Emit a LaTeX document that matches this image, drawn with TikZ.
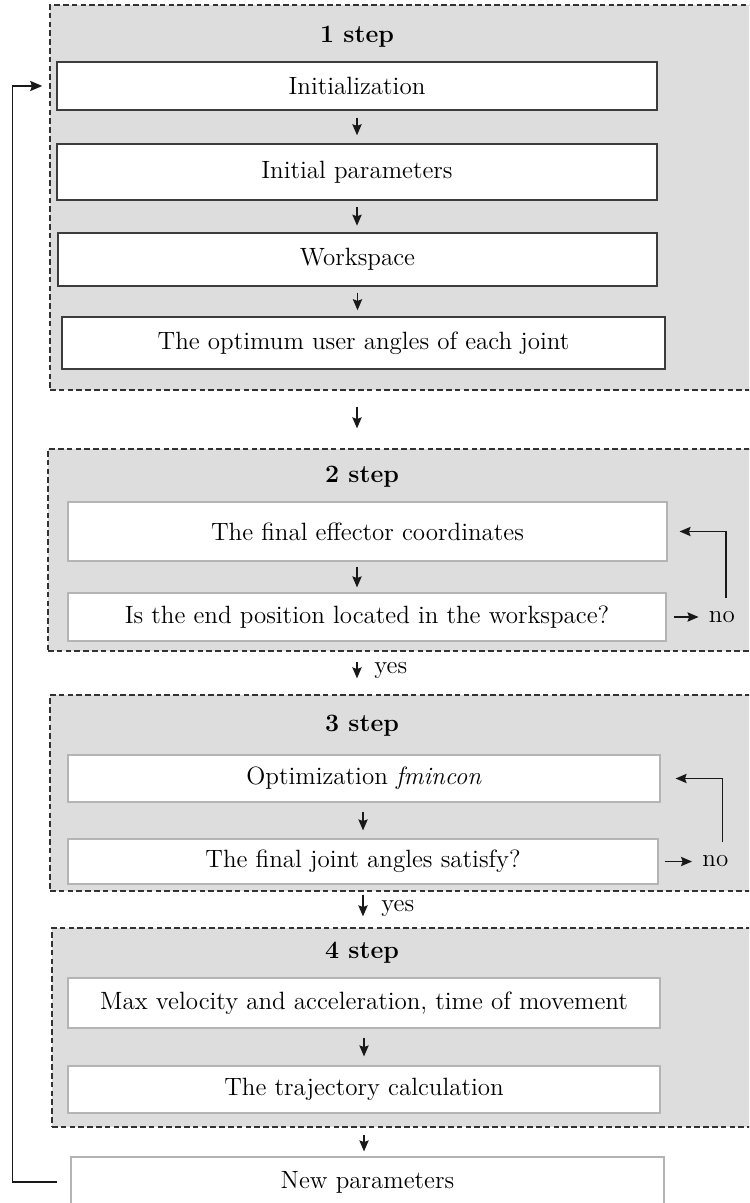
\documentclass[tikz,border=0pt]{standalone}
\usetikzlibrary{arrows.meta,calc}
\definecolor{panelfill}{RGB}{221,221,221}
\definecolor{paneldraw}{RGB}{50,50,50}
\definecolor{darkbox}{RGB}{60,60,60}
\definecolor{lightbox}{RGB}{180,180,180}
\begin{document}
\begin{tikzpicture}[x=0.5pt,y=-0.5pt,
  font=\fontsize{12.5}{15}\selectfont,
  panel/.style={draw=paneldraw, fill=panelfill, line width=0.6pt, dash pattern=on 2.8pt off 1.6pt, inner sep=0pt},
  boxA/.style={draw=darkbox, fill=white, line width=0.7pt, inner sep=0pt},
  boxB/.style={draw=lightbox, fill=white, line width=0.55pt, inner sep=0pt},
  steplabel/.style={font=\fontsize{12.5}{15}\selectfont\bfseries, inner sep=0pt},
  lbl/.style={inner sep=0pt},
  arr/.style={-{Stealth[length=5.5pt,width=4.6pt,inset=0.8pt]}, line width=0.85pt, black!90},
  backloop/.style={-{Stealth[length=6pt,width=5pt,inset=0.8pt]}, line width=0.95pt, black!90}
]
\useasboundingbox (0,0) rectangle (749,1203);
\clip (0,0) rectangle (749,1203);

% panels
\node[panel, minimum width=355pt, minimum height=192.5pt] (p1) at (405,197.5) {};
\node[panel, minimum width=356pt, minimum height=101pt] (p2) at (404,550) {};
\node[panel, minimum width=355pt, minimum height=98pt] (p3) at (405,793) {};
\node[panel, minimum width=354pt, minimum height=99.5pt] (p4) at (406,1027.5) {};

% step labels
\node[steplabel] (s1) at (357,37) {1 step};
\node[steplabel] (s2) at (362,477) {2 step};
\node[steplabel] (s3) at (362,726) {3 step};
\node[steplabel] (s4) at (362,953) {4 step};

% step 1 boxes
\node[boxA, minimum width=300pt, minimum height=24pt] (init) at (357,86) {Initialization};
\node[boxA, minimum width=300pt, minimum height=28pt] (params) at (357,172) {Initial parameters};
\node[boxA, minimum width=299.5pt, minimum height=26.5pt] (work) at (357.5,259.5) {Workspace};
\node[boxA, minimum width=301.5pt, minimum height=26pt] (opt) at (363.5,343) {The optimum user angles of each joint};

% step 2 boxes
\node[boxB, minimum width=299.5pt, minimum height=29.5pt] (eff) at (367.5,531.5) {The final effector coordinates};
\node[boxB, minimum width=299pt, minimum height=24pt] (isend) at (367,617) {Is the end position located in the workspace?};

% step 3 boxes
\node[boxB, minimum width=296pt, minimum height=23.5pt] (optim) at (364,778.5) {Optimization \textit{fmincon}};
\node[boxB, minimum width=295pt, minimum height=22.5pt] (joint) at (363,861.5) {The final joint angles satisfy?};

% step 4 boxes
\node[boxB, minimum width=296pt, minimum height=25pt] (maxv) at (364,1003) {Max velocity and acceleration, time of movement};
\node[boxB, minimum width=296pt, minimum height=23.5pt] (traj) at (364,1089.5) {The trajectory calculation};

% new parameters
\node[boxB, minimum width=296.5pt, minimum height=25pt] (newp) at (367.5,1182) {New parameters};

% arrows inside step 1
\draw[arr, shorten <=3.5pt, shorten >=4pt] (init.south) -- (init.south |- params.north);
\draw[arr, shorten <=3.3pt, shorten >=3.3pt] (params.south) -- (params.south |- work.north);
\draw[arr, shorten <=3pt, shorten >=3pt] (work.south) -- (work.south |- opt.north);

% step 1 -> step 2
\draw[arr, shorten <=8pt, shorten >=10pt] (p1.south -| init.south) -- (p2.north -| init.south);

% step 2
\draw[arr, shorten <=2.5pt, shorten >=2.5pt] (eff.south -| init.south) -- (isend.north -| init.south);
\node[lbl, anchor=west] (no2) at ($(isend.east)+(42,0)$) {no};
\draw[arr, shorten <=3.5pt, shorten >=5pt] (isend.east) -- (no2.west);
\draw[arr] ($(no2.north)+(4,-13)$) |- ([xshift=6pt]eff.east);

% step 2 -> step 3
\draw[arr, shorten <=5pt, shorten >=8pt] (p2.south -| init.south) -- (p3.north -| init.south);
\node[lbl, anchor=west] (yes1) at (374,670) {yes};

% step 3
\draw[arr, shorten <=4.5pt, shorten >=4pt] (optim.south -| joint.south) -- (joint.north);
\node[lbl, anchor=west] (no3) at ($(joint.east)+(43.5,0)$) {no};
\draw[arr, shorten <=3pt, shorten >=5pt] (joint.east) -- (no3.west);
\draw[arr] ($(no3.north)+(7,-13)$) |- ([xshift=7.5pt]optim.east);

% step 3 -> step 4
\draw[arr, shorten <=1.5pt, shorten >=5.5pt] (p3.south -| joint.south) -- (p4.north -| joint.south);
\node[lbl, anchor=west] (yes2) at (381,908) {yes};

% step 4
\draw[arr, shorten <=4.5pt, shorten >=4.5pt] (maxv.south) -- (traj.north);

% step 4 -> new parameters
\draw[arr, shorten <=3.5pt, shorten >=2.5pt] (p4.south -| traj.south) -- (newp.north -| traj.south);

% loop back to initialization
\draw[backloop] ([xshift=-6.5pt]newp.west) -- ++(-45,0) |- ([xshift=-7pt]init.west);
\end{tikzpicture}
\end{document}
